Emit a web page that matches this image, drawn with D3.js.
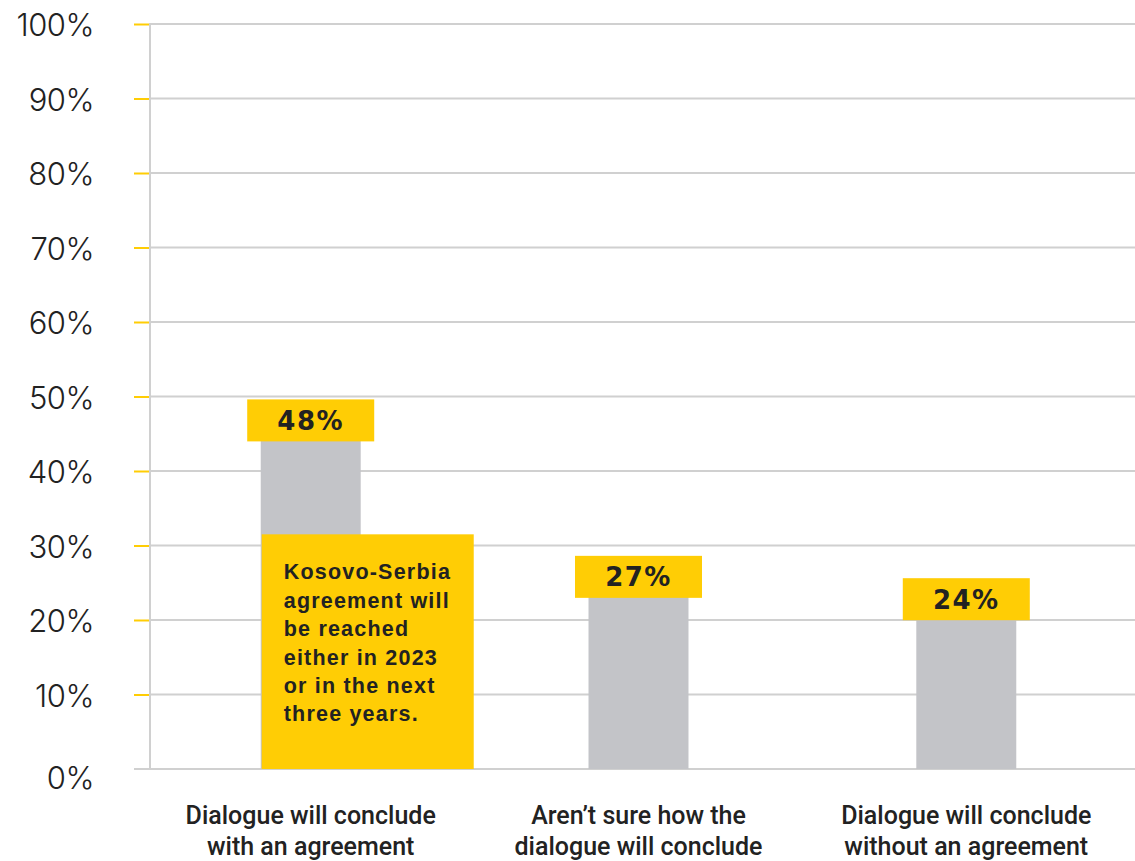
<!DOCTYPE html>
<html>
<head>
<meta charset="utf-8">
<script src="https://cdn.jsdelivr.net/npm/d3@7"></script>
<style>
  html, body { margin: 0; padding: 0; background: #fff; }
  svg { display: block; }
</style>
</head>
<body>
<svg id="chart" width="1135" height="861"></svg>
<script>
// Survey answers: how the Kosovo–Serbia dialogue will conclude
const categories = [
  ["Dialogue will conclude", "with an agreement"],
  ["Aren\u2019t sure how the", "dialogue will conclude"],
  ["Dialogue will conclude", "without an agreement"]
];
const values = [48, 27, 24];
const tickValues = [0, 10, 20, 30, 40, 50, 60, 70, 80, 90, 100];
const noteLines = [
  "Kosovo-Serbia",
  "agreement will",
  "be reached",
  "either in 2023",
  "or in the next",
  "three years."
];
const noteTop = 31.5; // percent level where the note box starts

const W = 1135, H = 861;
const margin = { top: 24, right: 0, bottom: 92, left: 150 };
const yellow = "#ffcd05", grey = "#c3c4c8", grid = "#d0d0d0", ink = "#222222";

const svg = d3.select("#chart");

const x = d3.scaleBand()
  .domain(d3.range(categories.length))
  .range([margin.left - 4, W - margin.right - 4])
  .paddingInner(0.695)
  .paddingOuter(0.35);

const y = d3.scaleLinear()
  .domain([0, 100])
  .range([H - margin.bottom, margin.top]);

// Gridlines
svg.append("g")
  .selectAll("line")
  .data(tickValues)
  .join("line")
  .attr("x1", d => d === 0 ? margin.left - 16 : margin.left)
  .attr("x2", W)
  .attr("y1", d => y(d))
  .attr("y2", d => y(d))
  .attr("stroke", grid)
  .attr("stroke-width", 2);

// Vertical axis line
svg.append("line")
  .attr("x1", margin.left).attr("x2", margin.left)
  .attr("y1", y(100) - 1).attr("y2", y(0))
  .attr("stroke", grid)
  .attr("stroke-width", 2);

// Y axis: yellow tick marks and percentage labels
const yAxis = d3.axisLeft(y)
  .tickValues(tickValues)
  .tickSize(15)
  .tickPadding(40)
  .tickFormat(d => d + "%");

const gy = svg.append("g")
  .attr("transform", `translate(${margin.left - 1},0)`)
  .call(yAxis);
gy.select(".domain").remove();
gy.selectAll(".tick line")
  .attr("stroke", d => d === 0 ? "none" : yellow)
  .attr("stroke-width", 2);
gy.selectAll(".tick text")
  .attr("fill", ink)
  .attr("font-family", "Inter, 'Liberation Sans', sans-serif")
  .attr("font-weight", 300)
  .attr("font-size", 31)
  .attr("letter-spacing", -0.5)
  .attr("dy", d => d === 0 ? "0.62em" : "0.38em");

// Bars
const barW = x.bandwidth();
svg.append("g")
  .selectAll("rect")
  .data(values)
  .join("rect")
  .attr("x", (d, i) => x(i))
  .attr("y", d => y(d))
  .attr("width", barW)
  .attr("height", d => y(0) - y(d))
  .attr("fill", grey);

// Value labels in yellow boxes
const boxW = 127, boxH = 42;
const labels = svg.append("g")
  .selectAll("g")
  .data(values)
  .join("g")
  .attr("transform", (d, i) => `translate(${x(i) + barW / 2},${y(d) - 12})`);
labels.append("rect")
  .attr("x", -boxW / 2)
  .attr("y", 0)
  .attr("width", boxW)
  .attr("height", boxH)
  .attr("fill", yellow);
labels.append("text")
  .attr("text-anchor", "middle")
  .attr("y", boxH / 2)
  .attr("dy", "0.36em")
  .attr("fill", ink)
  .attr("font-family", "'DejaVu Sans', sans-serif")
  .attr("font-weight", "bold")
  .attr("font-size", 26)
  .attr("letter-spacing", 1.5)
  .text(d => d + "%");

// Note box attached to the first bar
const noteX = x(0) + 1;
const note = svg.append("g");
note.append("rect")
  .attr("x", noteX)
  .attr("y", y(noteTop))
  .attr("width", 212)
  .attr("height", y(0) - y(noteTop))
  .attr("fill", yellow);
note.append("text")
  .attr("fill", ink)
  .attr("font-family", "'Liberation Sans', sans-serif")
  .attr("font-weight", "bold")
  .attr("font-size", 21.5)
  .attr("letter-spacing", 1.2)
  .selectAll("tspan")
  .data(noteLines)
  .join("tspan")
  .attr("x", noteX + 22)
  .attr("y", (d, i) => y(noteTop) + 45 + i * 28.4)
  .text(d => d);

// Category labels
const cat = svg.append("g")
  .selectAll("text")
  .data(categories)
  .join("text")
  .attr("text-anchor", "middle")
  .attr("fill", ink)
  .attr("font-family", "Roboto, 'Liberation Sans', sans-serif")
  .attr("font-size", 25)
  .attr("font-weight", 500);
cat.selectAll("tspan")
  .data((d, i) => d.map(line => ({ line, i })))
  .join("tspan")
  .attr("x", d => x(d.i) + barW / 2)
  .attr("y", (d, j) => 824 + j * 31)
  .text(d => d.line);
</script>
</body>
</html>
